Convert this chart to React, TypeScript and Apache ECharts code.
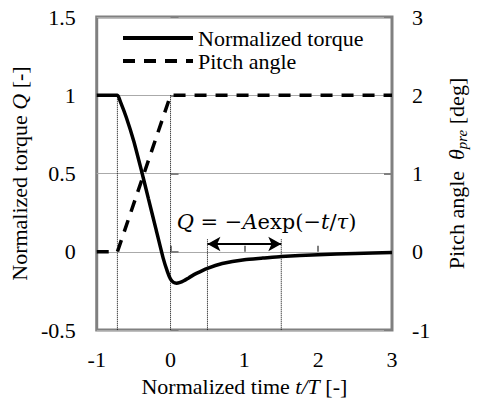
import React, { useEffect, useRef } from "react";
import * as echarts from "echarts";

const torqueT = [-1, -0.72, -0.68, -0.6, -0.5, -0.4, -0.3, -0.2, -0.1, -0.04, 0, 0.04, 0.08, 0.12, 0.18, 0.25, 0.35, 0.5, 0.7, 1.0, 1.25, 1.5, 2, 2.5, 3];
const torqueQ = [1, 1, 0.96, 0.86, 0.71, 0.53, 0.34, 0.15, -0.04, -0.13, -0.175, -0.195, -0.2, -0.197, -0.185, -0.165, -0.138, -0.105, -0.075, -0.05, -0.04, -0.03, -0.018, -0.01, -0.005];
const pitchT = [-1, -0.72, 0, 3];
const pitchDeg = [0, 0, 2, 2];
const markerT = [-0.72, 0, 0.5, 1.5];
const markerTopQ = [1, 1, 0.08, 0.08];
const arrowT = [0.5, 1.5];
const arrowQ = 0.05;
const annotation = { t: 1.3, q: 0.19 };
const FONT = "'Liberation Serif', 'Times New Roman', serif";
const MATH_FONT = "'DejaVu Serif', serif";

export default function App() {
  const ref = useRef<HTMLDivElement>(null);
  useEffect(() => {
    if (!ref.current) return;
    const chart = echarts.init(ref.current, undefined, { renderer: "svg" });
    const torqueData = torqueT.map((t, i) => [t, torqueQ[i]]);
    const pitchData = pitchT.map((t, i) => [t, pitchDeg[i]]);
    const markerSeries = markerT.map((t, i) => ({
      type: "line",
      name: "marker" + i,
      yAxisIndex: 0,
      data: [
        [t, markerTopQ[i]],
        [t, -0.5],
      ],
      symbol: "none",
      lineStyle: { color: "#000", width: 1, type: [1, 1] },
      silent: true,
      z: 1,
    }));
    const txt = { fontFamily: FONT, fontSize: 22, color: "#000" };
    const ital = { fontFamily: FONT, fontSize: 22, fontStyle: "italic", color: "#000" };
    chart.setOption({
      animation: false,
      textStyle: { fontFamily: FONT, color: "#000" },
      grid: {
        left: 88,
        right: 70,
        top: 17,
        bottom: 71,
        show: true,
        borderColor: "#808080",
        borderWidth: 3,
        backgroundColor: "transparent",
      },
      legend: {
        data: [
          { name: "Normalized torque", lineStyle: { width: 4, type: "solid" } },
          { name: "Pitch angle", lineStyle: { width: 4, type: [12, 9] } },
        ],
        orient: "vertical",
        left: 121,
        top: 27,
        padding: 0,
        itemWidth: 70,
        itemHeight: 14,
        itemGap: 1,
        itemStyle: { opacity: 0 },
        textStyle: { ...txt },
      },
      xAxis: {
        type: "value",
        min: -1,
        max: 3,
        interval: 1,
        name: "Normalized time {i|t/T} [-]",
        nameLocation: "middle",
        nameGap: 44,
        nameTextStyle: { ...txt, rich: { i: { ...ital } } },
        axisLine: { show: false },
        axisTick: { show: true, inside: true, length: 6, lineStyle: { color: "#808080", width: 2 } },
        axisLabel: { ...txt, margin: 18 },
        splitLine: { show: false },
      },
      yAxis: [
        {
          type: "value",
          min: -0.5,
          max: 1.5,
          interval: 0.5,
          name: "Normalized torque {i|Q} [-]",
          nameLocation: "middle",
          nameRotate: 90,
          nameGap: 60,
          nameTextStyle: { ...txt, rich: { i: { ...ital } } },
          axisLine: { show: false },
          axisTick: { show: true, inside: true, length: 8, lineStyle: { color: "#808080", width: 2 } },
          axisLabel: { ...txt, margin: 21 },
          splitLine: { show: true, lineStyle: { color: "#aaaaaa", width: 1 } },
        },
        {
          type: "value",
          min: -1,
          max: 3,
          interval: 1,
          position: "right",
          name: "Pitch angle  {i|θ}{sub|pre} [deg]",
          nameLocation: "middle",
          nameRotate: 90,
          nameGap: 52,
          nameTextStyle: {
            ...txt,
            rich: {
              i: { ...ital },
              sub: { ...ital, fontSize: 15, padding: [10, 0, 0, 0] },
            },
          },
          axisLine: { show: false },
          axisTick: { show: true, inside: true, length: 8, lineStyle: { color: "#808080", width: 2 } },
          axisLabel: { ...txt, margin: 20 },
          splitLine: { show: false },
        },
      ],
      series: [
        ...markerSeries,
        {
          type: "line",
          name: "Normalized torque",
          yAxisIndex: 0,
          data: torqueData,
          symbol: "none",
          smooth: 0.2,
          lineStyle: { color: "#000", width: 3.5 },
          itemStyle: { color: "#000" },
          z: 3,
          markLine: {
            silent: true,
            symbol: ["arrow", "arrow"],
            symbolSize: [11, 13],
            label: { show: false },
            lineStyle: { color: "#000", width: 2, type: "solid" },
            data: [
              [
                { coord: [arrowT[0], arrowQ] },
                { coord: [arrowT[1], arrowQ] },
              ],
            ],
          },
          markPoint: {
            silent: true,
            symbol: "circle",
            symbolSize: 1,
            itemStyle: { color: "rgba(0,0,0,0)" },
            label: {
              show: true,
              position: "inside",
              formatter: "{r|Q} = −{r|A}exp(−{r|t}/{r|τ})",
              fontFamily: MATH_FONT,
              fontSize: 21,
              color: "#000",
              rich: {
                r: { fontFamily: MATH_FONT, fontSize: 21, fontStyle: "italic", color: "#000" },
              },
            },
            data: [{ coord: [annotation.t, annotation.q] }],
          },
        },
        {
          type: "line",
          name: "Pitch angle",
          yAxisIndex: 1,
          data: pitchData,
          symbol: "none",
          lineStyle: { color: "#000", width: 3.5, type: [12, 9] },
          itemStyle: { color: "#000" },
          z: 3,
        },
      ],
    });
    return () => chart.dispose();
  }, []);
  return (
    <div
      ref={ref}
      style={{ position: "fixed", left: 0, top: 0, width: 477, height: 402, background: "#fff" }}
    />
  );
}
